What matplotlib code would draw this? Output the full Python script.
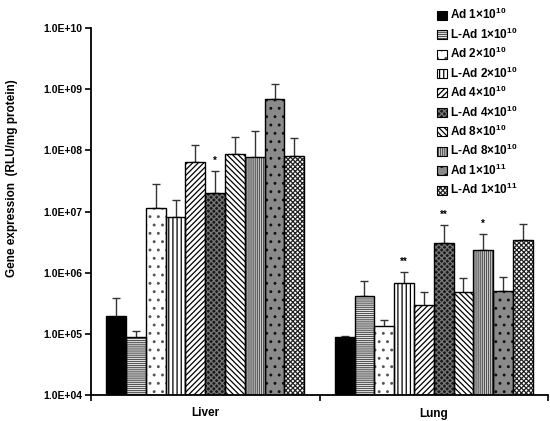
import matplotlib
matplotlib.use("Agg")
import matplotlib.pyplot as plt
import numpy as np
from matplotlib.patches import Patch
from matplotlib.legend_handler import HandlerTuple

plt.rcParams['font.family'] = ['Liberation Sans', 'DejaVu Sans']
plt.rcParams['mathtext.fontset'] = 'custom'
plt.rcParams['mathtext.rm'] = 'Liberation Sans:bold'
plt.rcParams['mathtext.bf'] = 'Liberation Sans:bold'
plt.rcParams['mathtext.it'] = 'Liberation Sans:bold'
plt.rcParams['hatch.linewidth'] = 0.9

tissues = ["Liver", "Lung"]
groups = ["Ad 1×10$^{10}$", "L-Ad 1×10$^{10}$", "Ad 2×10$^{10}$", "L-Ad 2×10$^{10}$",
          "Ad 4×10$^{10}$", "L-Ad 4×10$^{10}$", "Ad 8×10$^{10}$", "L-Ad 8×10$^{10}$",
          "Ad 1×10$^{11}$", "L-Ad 1×10$^{11}$"]

liver = [1.86e5, 7.9e4, 1.14e7, 8.1e6, 6.4e7, 2.0e7, 8.6e7, 7.8e7, 7.0e8, 8.1e7]
liver_err = [2.0e5, 3.2e4, 1.65e7, 7.1e6, 5.7e7, 2.6e7, 7.7e7, 1.27e8, 5.1e8, 7.6e7]
lung = [7.8e4, 4.1e5, 1.26e5, 6.6e5, 2.9e5, 3.1e6, 4.7e5, 2.32e6, 5.0e5, 3.46e6]
lung_err = [1.4e4, 3.3e5, 4.0e4, 3.8e5, 1.9e5, 3.0e6, 3.6e5, 2.0e6, 3.6e5, 2.8e6]

liver_stars = ["", "", "", "", "", "*", "", "", "", ""]
lung_stars = ["", "", "", "**", "", "**", "", "*", "", ""]

ytick_labels = ["1.0E+04", "1.0E+05", "1.0E+06", "1.0E+07", "1.0E+08", "1.0E+09", "1.0E+10"]

# style per group: (facecolor, hatch, hatchcolor)
styles = [
    ("black", "", "black"),
    ("white", "--------", "#555555"),
    ("white", "..", "#555555"),
    ("white", "||||", "black"),
    ("white", "//////", "black"),
    ("#1a1a1a", "xxxxxx", "#777777"),
    ("white", "\\\\\\\\\\\\", "black"),
    ("#dddddd", "||||||||", "#555555"),
    ("#8a8a8a", "..", "#111111"),
    ("white", "xxxxxxx", "#222222"),
]

fig = plt.figure(figsize=(5.5, 4.21), dpi=100)
ax = fig.add_axes([91/550, 1-395/421, (548-91)/550, (395-28)/421])

n = len(groups)
bw = 0.0867
data = [liver, lung]
errs = [liver_err, lung_err]
stars = [liver_stars, lung_stars]
for ti in range(len(tissues)):
    center = ti + 0.5
    for gi in range(n):
        x = center + (gi - (n - 1) / 2) * bw
        fc, h, hc = styles[gi]
        v = data[ti][gi]
        e = errs[ti][gi]
        ax.errorbar(x, v, yerr=[[0], [e]], fmt='none', ecolor='#333333',
                    elinewidth=1.0, capsize=3, capthick=1.0, zorder=1)
        ax.bar(x, v, width=bw, bottom=1e4, facecolor=fc, hatch=h, edgecolor=hc,
               linewidth=0, zorder=2)
        ax.bar(x, v, width=bw, bottom=1e4, fill=False, edgecolor='black',
               linewidth=1.0, zorder=3)
        if stars[ti][gi]:
            ax.text(x, (v + e) * 1.2, stars[ti][gi], ha='center', va='bottom',
                    fontsize=7, fontweight='bold')

ax.set_yscale('log')
ax.set_ylim(1e4, 1e10)
ax.set_xlim(0, 2)
ax.set_yticks([1e4, 1e5, 1e6, 1e7, 1e8, 1e9, 1e10])
ax.set_yticklabels(ytick_labels, fontsize=7.5, fontweight='bold')
ax.yaxis.set_minor_locator(matplotlib.ticker.NullLocator())
ax.set_xticks([0, 1, 2])
ax.set_xticklabels(["", "", ""])
ax.set_xticks([0.5, 1.5], minor=True)
ax.set_xticklabels(tissues, minor=True, fontsize=8.5, fontweight='bold')
ax.tick_params(axis='x', which='minor', length=0, pad=9)
ax.tick_params(axis='x', which='major', length=4, width=1.2, direction='out')
ax.tick_params(axis='y', length=4, width=1.2, direction='out', pad=2)
for s in ['top', 'right']:
    ax.spines[s].set_visible(False)
for s in ['left', 'bottom']:
    ax.spines[s].set_linewidth(1.3)

ax.set_ylabel("Gene expression  (RLU/mg protein)", fontsize=8.5, fontweight='bold')
ax.yaxis.set_label_coords(-0.16, 0.59)

handles = []
for gi in range(n):
    fc, h, hc = styles[gi]
    handles.append((Patch(facecolor=fc, hatch=h, edgecolor=hc, linewidth=0),
                    Patch(fill=False, edgecolor='black', linewidth=0.8)))
leg = fig.legend(handles, groups, loc='upper left', bbox_to_anchor=(430/550, 1.0),
                 frameon=False, prop={'size': 8.5, 'weight': 'bold'},
                 handlelength=0.8, handleheight=0.8, handletextpad=0.3,
                 labelspacing=0.36, borderaxespad=0.2,
                 handler_map={tuple: HandlerTuple(ndivide=1, pad=0)})

fig.savefig("out.png", dpi=100)
